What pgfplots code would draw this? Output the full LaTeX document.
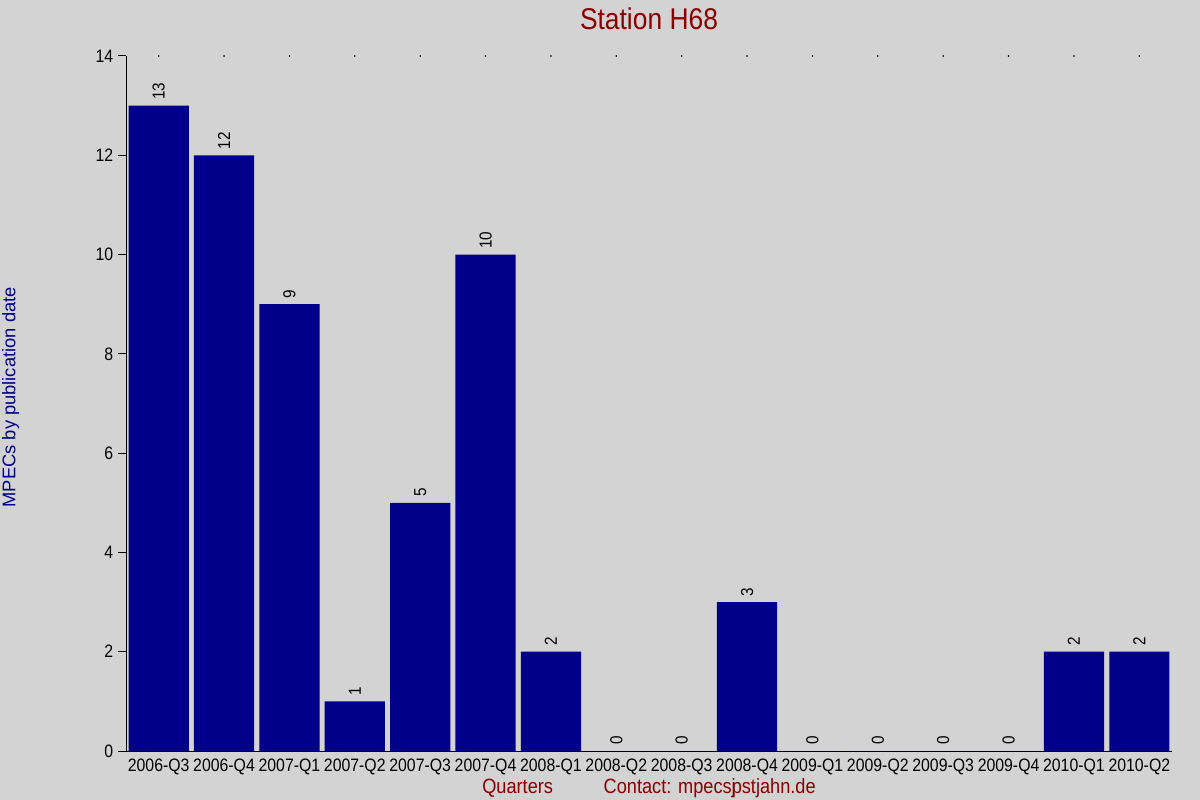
\documentclass[border=0pt]{standalone}
\usepackage{fontspec}
\setmainfont{Liberation Sans}[FakeStretch=0.88]
\newfontfamily\plainfont{Liberation Sans}
\usepackage{pgfplots}
\pgfplotsset{compat=1.18}
\definecolor{bg}{RGB}{211,211,211}
\definecolor{barblue}{RGB}{0,0,139}
\definecolor{darkred}{RGB}{139,0,0}
\begin{document}
\begin{tikzpicture}
\useasboundingbox (0,0) rectangle (900pt,600pt);
\fill[bg] (0,0) rectangle (900pt,600pt);
\begin{axis}[
  at={(94.5pt,36.75pt)}, anchor=south west,
  scale only axis,
  width=784.5pt, height=521.25pt,
  xmin=-0.5, xmax=15.5,
  ymin=0, ymax=14,
  axis x line=bottom, axis y line=left,
  axis line style={-, line width=0.75pt},
  ytick={0,2,...,14},
  tick align=outside,
  major tick length=6pt,
  y tick style={line width=0.75pt, black},
  xtick={0,...,15},
  xticklabels={2006-Q3,2006-Q4,2007-Q1,2007-Q2,2007-Q3,2007-Q4,2008-Q1,2008-Q2,2008-Q3,2008-Q4,2009-Q1,2009-Q2,2009-Q3,2009-Q4,2010-Q1,2010-Q2},
  x tick style={draw=none},
  tick label style={font=\fontsize{13.5}{15}\selectfont},
  xticklabel style={yshift=3.5pt},
  /pgf/number format/assume math mode=true,
  clip=false,
]
\addplot[ybar, bar width=0.92, fill=barblue, draw=none,
  nodes near coords,
  every node near coord/.append style={rotate=90, anchor=west, font=\fontsize{13}{15}\selectfont, black, xshift=1pt}]
  coordinates {(0,13) (1,12) (2,9) (3,1) (4,5) (5,10) (6,2) (7,0) (8,0) (9,3) (10,0) (11,0) (12,0) (13,0) (14,2) (15,2)};
\addplot[only marks, mark=*, mark size=0.4pt, black]
  coordinates {(0,14) (1,14) (2,14) (3,14) (4,14) (5,14) (6,14) (7,14) (8,14) (9,14) (10,14) (11,14) (12,14) (13,14) (14,14) (15,14)};
\end{axis}
\node[darkred, font=\fontsize{22.5}{26}\selectfont] at (486.75pt,586pt) {Station H68};
\node[barblue, rotate=90, font=\plainfont\fontsize{13.75}{16}\selectfont] at (8pt,302pt) {MPECs by publication date};
\node[darkred, font=\fontsize{15.5}{17}\selectfont] at (486.75pt,9pt) {Quarters\hspace{38pt}Contact: mpecs\rlap{j}pstjahn.de};
\end{tikzpicture}
\end{document}
